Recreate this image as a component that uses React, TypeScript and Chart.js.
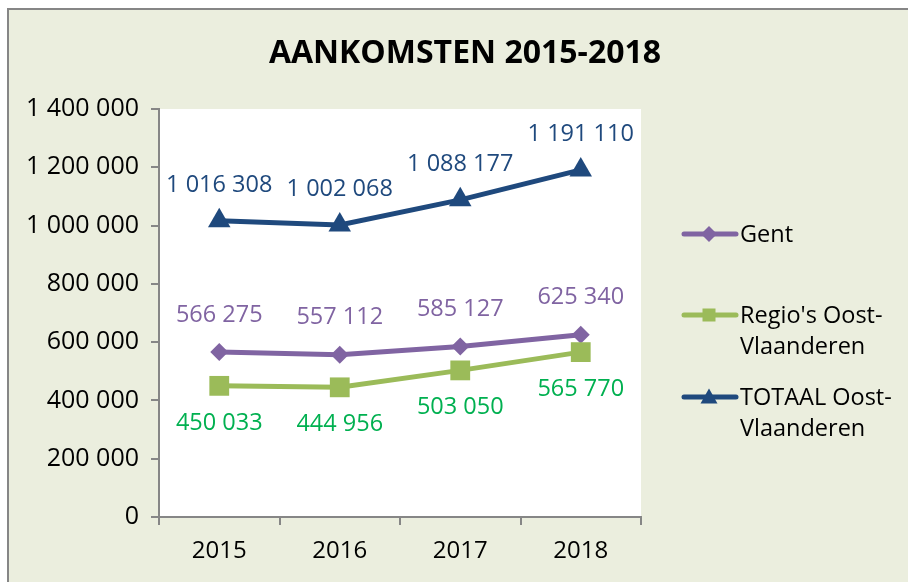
import React, { useEffect, useRef } from "react";
import { Chart, registerables } from "chart.js";

Chart.register(...registerables);

const categories = ["2015", "2016", "2017", "2018"];
const gent = [566275, 557112, 585127, 625340];
const regio = [450033, 444956, 503050, 565770];
const totaal = [1016308, 1002068, 1088177, 1191110];
const yMin = 0;
const yMax = 1400000;
const yStep = 200000;
const titleText = "AANKOMSTEN 2015-2018";
const legendLabels = [["Gent"], ["Regio's Oost-", "Vlaanderen"], ["TOTAAL Oost-", "Vlaanderen"]];

const fmt = (v: number) => String(v).replace(/\B(?=(\d{3})+(?!\d))/g, " ");

const FONT = "'Open Sans', 'Noto Sans', sans-serif";

const colors = {
  gent: "#8064A2",
  gentLabel: "#8064A2",
  regio: "#9BBB59",
  regioLabel: "#00B050",
  totaal: "#1F497D",
  totaalLabel: "#1F497D",
};

const drawMarker = (ctx: CanvasRenderingContext2D, style: string, x: number, y: number, r: number, color: string) => {
  ctx.save();
  ctx.fillStyle = color;
  ctx.beginPath();
  if (style === "rectRot") {
    ctx.moveTo(x - r, y);
    ctx.lineTo(x, y - r);
    ctx.lineTo(x + r, y);
    ctx.lineTo(x, y + r);
  } else if (style === "rect") {
    ctx.rect(x - r, y - r, 2 * r, 2 * r);
  } else {
    ctx.moveTo(x, y - r);
    ctx.lineTo(x + r, y + r * 0.75);
    ctx.lineTo(x - r, y + r * 0.75);
  }
  ctx.closePath();
  ctx.fill();
  ctx.restore();
};

const bgPlugin = {
  id: "bg",
  beforeDraw(chart: any) {
    const { ctx, width, height, chartArea } = chart;
    ctx.save();
    ctx.fillStyle = "#ffffff";
    ctx.fillRect(0, 0, width, height);
    ctx.fillStyle = "#EBEEDE";
    ctx.fillRect(8, 9, width - 8, height - 9);
    ctx.strokeStyle = "#868686";
    ctx.lineWidth = 2;
    ctx.beginPath();
    ctx.moveTo(8, height);
    ctx.lineTo(8, 9);
    ctx.lineTo(width, 9);
    ctx.stroke();
    ctx.fillStyle = "#ffffff";
    ctx.fillRect(chartArea.left, chartArea.top, chartArea.right - chartArea.left, chartArea.bottom - chartArea.top);
    ctx.restore();
  },
  afterDraw(chart: any) {
    const { ctx } = chart;
    ctx.save();
    ctx.fillStyle = "#000000";
    ctx.font = `bold 32px ${FONT}`;
    ctx.textAlign = "center";
    ctx.textBaseline = "middle";
    ctx.fillText(titleText, 465, 54);
    ctx.restore();
  },
};

const legendPlugin = {
  id: "customLegend",
  afterDraw(chart: any) {
    const { ctx } = chart;
    const ys = [[234], [315, 346], [397, 428]];
    const sizes = [8, 6.5, 8.5];
    chart.data.datasets.forEach((ds: any, i: number) => {
      const lineY = ys[i][0];
      ctx.save();
      ctx.strokeStyle = ds.borderColor;
      ctx.lineWidth = 5;
      ctx.lineCap = "round";
      ctx.beginPath();
      ctx.moveTo(684, lineY);
      ctx.lineTo(736, lineY);
      ctx.stroke();
      ctx.restore();
      drawMarker(ctx, ds.pointStyle, 709, lineY, sizes[i], ds.borderColor);
      ctx.save();
      ctx.fillStyle = "#000000";
      ctx.font = `23.5px ${FONT}`;
      ctx.textAlign = "left";
      ctx.textBaseline = "middle";
      legendLabels[i].forEach((t, j) => ctx.fillText(t, 740, ys[i][j] + 1));
      ctx.restore();
    });
  },
};

const labelPlugin = {
  id: "dataLabels",
  afterDatasetsDraw(chart: any) {
    const { ctx } = chart;
    const offsets = [-37, 37, -36];
    const labelColors = [colors.gentLabel, colors.regioLabel, colors.totaalLabel];
    chart.data.datasets.forEach((ds: any, i: number) => {
      const meta = chart.getDatasetMeta(i);
      ctx.save();
      ctx.fillStyle = labelColors[i];
      ctx.font = `23.5px ${FONT}`;
      ctx.textAlign = "center";
      ctx.textBaseline = "middle";
      meta.data.forEach((pt: any, j: number) => {
        ctx.fillText(fmt(ds.data[j]), pt.x, pt.y + offsets[i]);
      });
      ctx.restore();
    });
  },
};

export default function App() {
  const ref = useRef<HTMLCanvasElement | null>(null);
  useEffect(() => {
    document.body.style.margin = "0";
    if (!ref.current) return;
    const axisColor = "#868686";
    const chart = new Chart(ref.current, {
      type: "line",
      data: {
        labels: categories,
        datasets: [
          {
            label: "Gent",
            data: gent,
            borderColor: colors.gent,
            backgroundColor: colors.gent,
            borderWidth: 5,
            pointStyle: "rectRot",
            pointRadius: 9,
            pointBorderWidth: 0,
            pointBackgroundColor: colors.gent,
            order: 2,
          },
          {
            label: "Regio's Oost-Vlaanderen",
            data: regio,
            borderColor: colors.regio,
            backgroundColor: colors.regio,
            borderWidth: 5,
            pointStyle: "rect",
            pointRadius: 14,
            pointBorderWidth: 0,
            pointBackgroundColor: colors.regio,
            order: 1,
          },
          {
            label: "TOTAAL Oost-Vlaanderen",
            data: totaal,
            borderColor: colors.totaal,
            backgroundColor: colors.totaal,
            borderWidth: 5,
            pointStyle: "triangle",
            pointRadius: 13,
            pointBorderWidth: 0,
            pointBackgroundColor: colors.totaal,
            order: 0,
          },
        ],
      },
      options: {
        responsive: false,
        animation: false,
        layout: { padding: { top: 109, right: 267, bottom: 0, left: 0 } },
        plugins: {
          legend: { display: false },
          title: { display: false },
          tooltip: { enabled: false },
        },
        scales: {
          x: {
            type: "category",
            offset: true,
            grid: {
              offset: true,
              drawOnChartArea: false,
              drawTicks: true,
              tickLength: 8,
              color: axisColor,
              lineWidth: 2,
            },
            border: { color: axisColor, width: 2 },
            ticks: { color: "#000000", font: { family: FONT, size: 24 }, padding: 12 },
            afterFit: (s: any) => {
              s.height = 65;
            },
          },
          y: {
            min: yMin,
            max: yMax,
            grid: {
              drawOnChartArea: false,
              drawTicks: true,
              tickLength: 8,
              color: axisColor,
              lineWidth: 2,
            },
            border: { color: axisColor, width: 2 },
            ticks: {
              stepSize: yStep,
              color: "#000000",
              font: { family: FONT, size: 25 },
              padding: 12,
              callback: (v: any) => fmt(Number(v)),
            },
            afterFit: (s: any) => {
              s.width = 159;
            },
          },
        },
      },
      plugins: [bgPlugin, labelPlugin, legendPlugin],
    });
    return () => chart.destroy();
  }, []);
  return (
    <div style={{ width: 908, height: 582 }}>
      <canvas ref={ref} width={908} height={582} />
    </div>
  );
}
